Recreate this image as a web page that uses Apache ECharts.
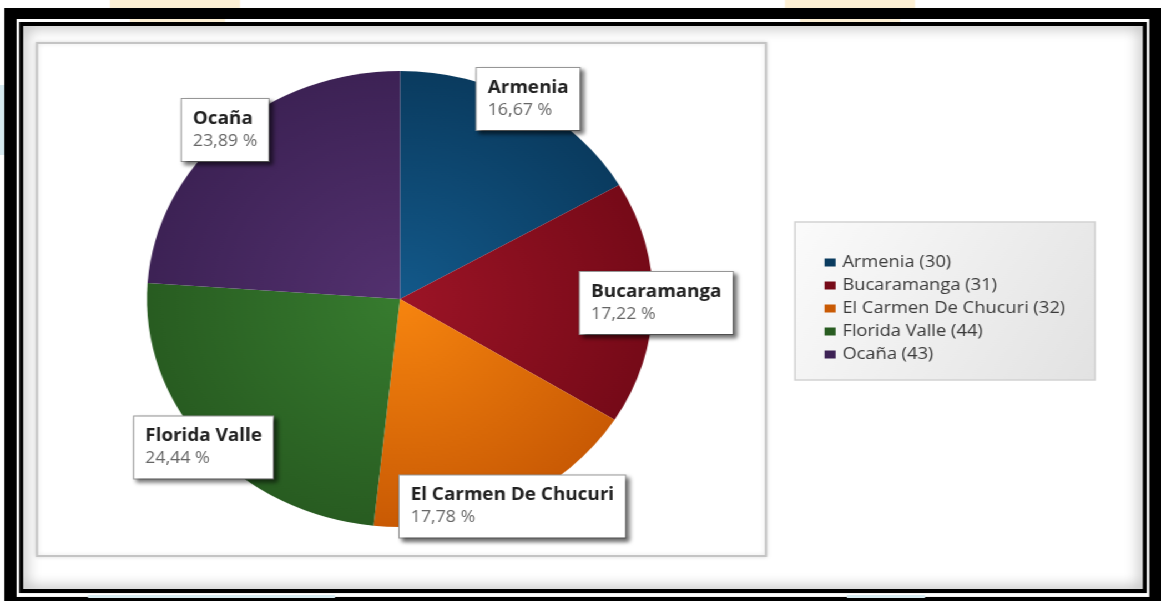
<!DOCTYPE html>
<html>
<head>
<meta charset="utf-8">
<script src="https://cdn.jsdelivr.net/npm/echarts@6/dist/echarts.min.js"></script>
<style>
  html, body { margin: 0; padding: 0; background: #ffffff; overflow: hidden; }
  /* the drawing is laid out on a narrower canvas and widened to the page */
  #chart { width: 1046px; height: 601px; transform: scaleX(1.10994); transform-origin: 0 0; }
</style>
</head>
<body>
<div id="chart"></div>
<script>
// Participants by city
const cities = ['Armenia', 'Bucaramanga', 'El Carmen De Chucuri', 'Florida Valle', 'Ocaña'];
const counts = [30, 31, 32, 44, 43];
const sliceColors = [
  ['#13598a', '#0a3b5f'],
  ['#9c1426', '#760a18'],
  ['#f7850f', '#c95a04'],
  ['#377c2f', '#285c21'],
  ['#53316f', '#3d2255']
];

const S = 1161 / 1046;          // horizontal widening applied by CSS
const X = v => v / S;           // page x -> canvas x
const CX = X(400), CY = 299, R = 228;
const FONT = '"Open Sans", "Noto Sans", sans-serif';

const data = cities.map((name, i) => ({ name: name, value: counts[i] }));
const coloured = data.map((d, i) => ({
  name: d.name,
  value: d.value,
  itemStyle: {
    color: new echarts.graphic.RadialGradient(CX, CY, R, [
      { offset: 0, color: sliceColors[i][0] },
      { offset: 1, color: sliceColors[i][1] }
    ], true)
  }
}));

const fmtPct = p => p.toFixed(2).replace('.', ',') + ' %';

const chart = echarts.init(document.getElementById('chart'), null, { renderer: 'canvas' });

const frame = [
  // stray bits of the page behind the frame
  { type: 'rect', shape: { x: X(110), y: 0, width: X(130), height: 22 }, style: { fill: '#fdf0d4' }, z: 0 },
  { type: 'rect', shape: { x: X(785), y: 0, width: X(130), height: 22 }, style: { fill: '#fdf0d4' }, z: 0 },
  { type: 'rect', shape: { x: 0, y: 85, width: X(6), height: 70 }, style: { fill: '#d6eaf0' }, z: 0 },
  // inner white area with an inset shadow from the dark frame
  { type: 'rect', shape: { x: X(21), y: 24, width: X(1124), height: 567 }, style: { fill: '#ffffff' }, z: 1 },
  { type: 'rect', shape: { x: X(21), y: 24, width: X(1124), height: 567 },
    style: { fill: null, stroke: '#000', lineWidth: 4, shadowBlur: 14, shadowColor: 'rgba(0,0,0,0.6)' }, z: 2 },
  { type: 'rect', shape: { x: X(17.5), y: 20.5, width: X(1131), height: 574.5 },
    style: { fill: null, stroke: '#ffffff', lineWidth: 3 }, z: 3 },
  { type: 'rect', shape: { x: X(10.5), y: 13.5, width: X(1145), height: 589 },
    style: { fill: null, stroke: '#000', lineWidth: 11 }, z: 4 },
  { type: 'rect', shape: { x: X(130), y: 19, width: X(95), height: 3 }, style: { fill: '#fdf0d4' }, z: 5 },
  { type: 'rect', shape: { x: X(800), y: 19, width: X(100), height: 3 }, style: { fill: '#fdf0d4' }, z: 5 },
  { type: 'rect', shape: { x: X(88), y: 595, width: X(247), height: 3 }, style: { fill: '#d6eaf0' }, z: 5 },
  { type: 'rect', shape: { x: X(847), y: 595, width: X(78), height: 3 }, style: { fill: '#d6eaf0' }, z: 5 },
  // chart panel
  { type: 'rect', shape: { x: X(37), y: 43, width: X(729), height: 513 },
    style: { fill: '#ffffff', stroke: '#c4c4c4', lineWidth: 2, shadowBlur: 4, shadowColor: 'rgba(0,0,0,0.12)' }, z: 6 },
  // legend panel
  { type: 'rect', shape: { x: X(795), y: 222, width: X(300), height: 158 },
    style: {
      fill: new echarts.graphic.LinearGradient(0, 0, 1, 1, [
        { offset: 0, color: '#fbfbfb' }, { offset: 1, color: '#e2e2e2' }
      ]),
      stroke: '#d2d2d2', lineWidth: 1.5
    }, z: 6 }
];

chart.setOption({
  animation: false,
  backgroundColor: '#ffffff',
  graphic: { elements: frame.map(e => Object.assign({ silent: true, zlevel: 0 }, e)) },
  legend: {
    orient: 'vertical',
    left: X(819),
    top: 249,
    data: cities,
    icon: 'rect',
    itemWidth: 10,
    itemHeight: 8,
    itemGap: 6,
    selectedMode: false,
    zlevel: 1,
    formatter: name => name + ' (' + counts[cities.indexOf(name)] + ')',
    textStyle: { fontFamily: FONT, fontSize: 16.5, lineHeight: 16, color: '#3a3a3a', padding: [0, 0, 0, 1] }
  },
  series: [
    {
      type: 'pie',
      zlevel: 1,
      center: [CX, CY],
      radius: [0, R],
      startAngle: 90,
      clockwise: true,
      avoidLabelOverlap: false,
      silent: true,
      label: { show: false },
      labelLine: { show: false },
      itemStyle: { borderWidth: 0 },
      emphasis: { disabled: true },
      data: coloured
    },
    {
      // thin invisible ring on the rim: carries the callout boxes at each slice's mid-angle
      type: 'pie',
      zlevel: 2,
      center: [CX, CY],
      radius: [R - 1, R + 1],
      startAngle: 90,
      clockwise: true,
      avoidLabelOverlap: false,
      silent: true,
      itemStyle: { color: 'rgba(0,0,0,0)', borderWidth: 0 },
      emphasis: { disabled: true },
      labelLine: { show: false },
      label: {
        show: true,
        position: 'inside',
        formatter: p => '{n|' + p.name + '}\n{v|' + fmtPct(p.percent) + '}',
        backgroundColor: '#ffffff',
        borderColor: '#9a9a9a',
        borderWidth: 1,
        padding: [9, 10, 9, 10],
        shadowColor: 'rgba(0,0,0,0.55)',
        shadowBlur: 4,
        shadowOffsetX: 3,
        shadowOffsetY: 3,
        rich: {
          n: { fontFamily: FONT, fontSize: 17, fontWeight: 'bold', color: '#222222', lineHeight: 22, align: 'left' },
          v: { fontFamily: FONT, fontSize: 16, color: '#666666', lineHeight: 22, align: 'left' }
        }
      },
      data: data
    }
  ]
});
</script>
</body>
</html>
